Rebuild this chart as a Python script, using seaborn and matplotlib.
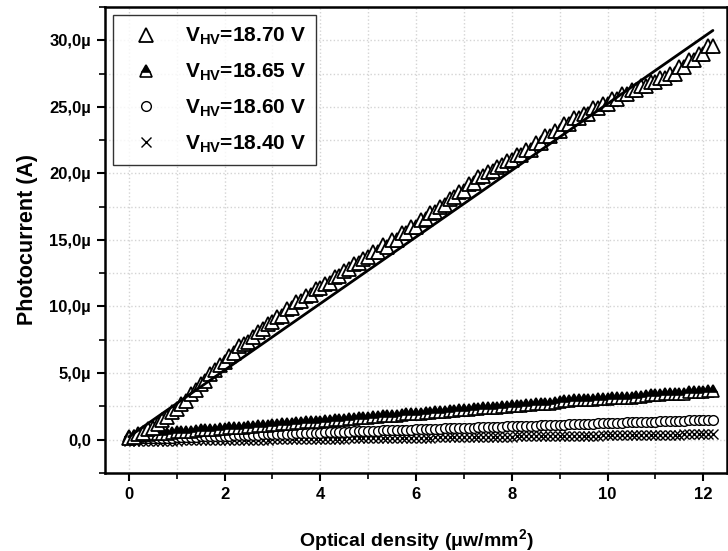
import numpy as np
import pandas as pd
import seaborn as sns
import matplotlib
matplotlib.use("Agg")
import matplotlib.pyplot as plt
from matplotlib.ticker import MultipleLocator

# optical density (uW/mm2) sampling of the sweep
density = [
    0.0, 0.1, 0.2, 0.3, 0.4, 0.5, 0.6, 0.7, 0.8, 0.9,
    1.0, 1.1, 1.2, 1.3, 1.4, 1.5, 1.6, 1.7, 1.8, 1.9,
    2.0, 2.1, 2.2, 2.3, 2.4, 2.5, 2.6, 2.7, 2.8, 2.9,
    3.0, 3.1, 3.2, 3.3, 3.4, 3.5, 3.6, 3.7, 3.8, 3.9,
    4.0, 4.1, 4.2, 4.3, 4.4, 4.5, 4.6, 4.7, 4.8, 4.9,
    5.0, 5.1, 5.2, 5.3, 5.4, 5.5, 5.6, 5.7, 5.8, 5.9,
    6.0, 6.1, 6.2, 6.3, 6.4, 6.5, 6.6, 6.7, 6.8, 6.9,
    7.0, 7.1, 7.2, 7.3, 7.4, 7.5, 7.6, 7.7, 7.8, 7.9,
    8.0, 8.1, 8.2, 8.3, 8.4, 8.5, 8.6, 8.7, 8.8, 8.9,
    9.0, 9.1, 9.2, 9.3, 9.4, 9.5, 9.6, 9.7, 9.8, 9.9,
    10.0, 10.1, 10.2, 10.3, 10.4, 10.5, 10.6, 10.7, 10.8, 10.9,
    11.0, 11.1, 11.2, 11.3, 11.4, 11.5, 11.6, 11.7, 11.8, 11.9,
    12.0, 12.1, 12.2,
]

# photocurrent in uA
i_1870 = [
    0.1, 0.2, 0.4, 0.5, 0.8, 0.9, 1.2, 1.5, 1.7, 2.1,
    2.3, 2.7, 2.9, 3.4, 3.7, 4.2, 4.4, 4.9, 5.2, 5.6,
    5.8, 6.3, 6.5, 7.0, 7.2, 7.3, 7.7, 8.1, 8.3, 8.7,
    8.8, 9.2, 9.3, 9.8, 9.9, 10.3, 10.4, 10.8, 10.9, 11.3,
    11.4, 11.7, 11.8, 12.2, 12.3, 12.7, 12.8, 13.2, 13.3, 13.6,
    13.7, 14.1, 14.1, 14.6, 14.5, 15.0, 15.0, 15.5, 15.5, 16.0,
    16.0, 16.5, 16.6, 17.0, 17.1, 17.5, 17.6, 18.1, 18.2, 18.6,
    18.7, 19.2, 19.3, 19.7, 19.8, 20.1, 20.2, 20.5, 20.6, 20.9,
    21.0, 21.4, 21.4, 21.8, 21.8, 22.3, 22.3, 22.8, 22.8, 23.2,
    23.2, 23.7, 23.7, 24.2, 24.2, 24.5, 24.5, 24.9, 24.9, 25.2,
    25.2, 25.6, 25.6, 26.0, 26.0, 26.3, 26.3, 26.6, 26.6, 26.9,
    26.9, 27.2, 27.2, 27.5, 27.5, 28.0, 28.0, 28.5, 28.5, 29.0,
    29.0, 29.6, 29.6,
]
i_1865 = [
    0.25, 0.30, 0.30, 0.35, 0.35, 0.40, 0.40, 0.45, 0.45, 0.50,
    0.55, 0.55, 0.60, 0.60, 0.65, 0.70, 0.70, 0.75, 0.75, 0.80,
    0.80, 0.85, 0.85, 0.90, 0.90, 0.95, 0.95, 1.00, 1.05, 1.05,
    1.10, 1.10, 1.15, 1.15, 1.20, 1.25, 1.25, 1.30, 1.30, 1.35,
    1.35, 1.40, 1.40, 1.45, 1.50, 1.50, 1.55, 1.55, 1.60, 1.60,
    1.65, 1.70, 1.70, 1.75, 1.75, 1.80, 1.80, 1.85, 1.90, 1.90,
    1.95, 1.95, 2.00, 2.00, 2.05, 2.10, 2.10, 2.15, 2.15, 2.20,
    2.20, 2.25, 2.30, 2.30, 2.35, 2.35, 2.40, 2.40, 2.45, 2.45,
    2.50, 2.55, 2.55, 2.60, 2.60, 2.65, 2.65, 2.70, 2.70, 2.75,
    2.80, 2.90, 2.90, 2.95, 2.95, 3.00, 3.00, 3.00, 3.05, 3.05,
    3.05, 3.10, 3.10, 3.10, 3.15, 3.15, 3.20, 3.20, 3.25, 3.35,
    3.35, 3.35, 3.40, 3.40, 3.40, 3.45, 3.45, 3.55, 3.55, 3.60,
    3.60, 3.65, 3.65,
]
i_1860 = [
    0.05, 0.05, 0.08, 0.08, 0.10, 0.12, 0.12, 0.13, 0.15, 0.15,
    0.17, 0.18, 0.19, 0.20, 0.21, 0.23, 0.24, 0.25, 0.26, 0.27,
    0.29, 0.30, 0.31, 0.32, 0.33, 0.35, 0.36, 0.37, 0.38, 0.39,
    0.40, 0.42, 0.43, 0.44, 0.45, 0.46, 0.48, 0.49, 0.50, 0.51,
    0.52, 0.53, 0.55, 0.56, 0.57, 0.58, 0.59, 0.61, 0.62, 0.63,
    0.64, 0.65, 0.66, 0.68, 0.69, 0.70, 0.71, 0.72, 0.73, 0.75,
    0.76, 0.77, 0.78, 0.79, 0.81, 0.82, 0.83, 0.84, 0.85, 0.86,
    0.88, 0.89, 0.90, 0.91, 0.92, 0.94, 0.95, 0.96, 0.97, 0.98,
    0.99, 1.01, 1.02, 1.03, 1.04, 1.05, 1.06, 1.08, 1.09, 1.10,
    1.11, 1.12, 1.14, 1.15, 1.16, 1.17, 1.18, 1.19, 1.21, 1.22,
    1.23, 1.24, 1.25, 1.27, 1.28, 1.29, 1.30, 1.31, 1.32, 1.34,
    1.35, 1.36, 1.37, 1.38, 1.40, 1.41, 1.42, 1.43, 1.44, 1.45,
    1.47, 1.48, 1.49,
]
i_1840 = [
    -0.12, -0.12, -0.11, -0.11, -0.10, -0.10, -0.09, -0.09, -0.09, -0.08,
    -0.08, -0.07, -0.07, -0.06, -0.06, -0.06, -0.05, -0.05, -0.04, -0.04,
    -0.03, -0.03, -0.03, -0.02, -0.02, -0.01, -0.01, 0.00, 0.00, 0.00,
    0.01, 0.01, 0.02, 0.02, 0.03, 0.03, 0.03, 0.04, 0.04, 0.05,
    0.05, 0.06, 0.06, 0.06, 0.07, 0.07, 0.08, 0.08, 0.09, 0.09,
    0.10, 0.10, 0.10, 0.11, 0.11, 0.12, 0.12, 0.13, 0.13, 0.13,
    0.14, 0.14, 0.15, 0.15, 0.16, 0.16, 0.16, 0.17, 0.17, 0.18,
    0.18, 0.19, 0.19, 0.19, 0.20, 0.20, 0.21, 0.21, 0.22, 0.22,
    0.22, 0.23, 0.23, 0.24, 0.24, 0.25, 0.25, 0.25, 0.26, 0.26,
    0.27, 0.27, 0.28, 0.28, 0.28, 0.29, 0.29, 0.30, 0.30, 0.31,
    0.31, 0.31, 0.32, 0.32, 0.33, 0.33, 0.34, 0.34, 0.34, 0.35,
    0.35, 0.36, 0.36, 0.37, 0.37, 0.37, 0.38, 0.38, 0.39, 0.39,
    0.40, 0.40, 0.40,
]

# linear fit of the 18.70 V curve
fit_x = [0.0, 12.2]
fit_y = [0.2, 30.75]

labels = ["18.70", "18.65", "18.60", "18.40"]
y_ticks = [0, 5, 10, 15, 20, 25, 30]
y_ticklabels = ["0,0", "5,0\u00b5", "10,0\u00b5", "15,0\u00b5", "20,0\u00b5", "25,0\u00b5", "30,0\u00b5"]

sns.set_theme(style="ticks")
plt.rcParams["font.family"] = ["Liberation Sans", "DejaVu Sans"]
plt.rcParams["font.weight"] = "bold"
plt.rcParams["mathtext.fontset"] = "custom"
plt.rcParams["mathtext.rm"] = "Liberation Sans:bold"
plt.rcParams["mathtext.it"] = "Liberation Sans:bold"
plt.rcParams["mathtext.bf"] = "Liberation Sans:bold"
for key in ["text.color", "axes.labelcolor", "xtick.color", "ytick.color"]:
    plt.rcParams[key] = "black"

fig = plt.figure(figsize=(7.28, 5.51), dpi=100)
ax = fig.add_axes([0.144, 0.142, 0.855, 0.845])

common = dict(ax=ax, estimator=None, sort=False, linestyle="", color="black")

# draw back to front: crosses, circles, half triangles, open triangles
sns.lineplot(x=density, y=i_1840, marker="x", markersize=7, mew=1.0, mec="black",
             label=r"V$_{\rm HV}$=" + labels[3] + " V", zorder=3, **common)
sns.lineplot(x=density, y=i_1860, marker="o", markersize=7, mfc="white",
             mec="black", mew=1.0,
             label=r"V$_{\rm HV}$=" + labels[2] + " V", zorder=4, **common)
sns.lineplot(x=density, y=i_1865, marker="^", markersize=9, fillstyle="top",
             mfc="black", markerfacecoloralt="white", mec="black", mew=1.2,
             label=r"V$_{\rm HV}$=" + labels[1] + " V", zorder=5, **common)
sns.lineplot(x=density, y=i_1870, marker="^", markersize=10, mfc="white",
             mec="black", mew=1.3,
             label=r"V$_{\rm HV}$=" + labels[0] + " V", zorder=6, **common)
ax.plot(fit_x, fit_y, color="black", lw=2, zorder=7)

ax.set_xlim(-0.5, 12.5)
ax.set_ylim(-2.5, 32.5)
ax.xaxis.set_major_locator(MultipleLocator(2))
ax.xaxis.set_minor_locator(MultipleLocator(1))
ax.set_yticks(y_ticks)
ax.set_yticklabels(y_ticklabels)
ax.yaxis.set_minor_locator(MultipleLocator(2.5))
ax.tick_params(which="major", direction="out", length=6, width=1.5, labelsize=12, pad=4)
ax.tick_params(which="minor", direction="out", length=4, width=1.2)
for lab in ax.get_xticklabels() + ax.get_yticklabels():
    lab.set_fontweight("bold")

ax.grid(which="both", color="#d4d4d4", linestyle=":", linewidth=1.0)
ax.set_axisbelow(True)
for s in ax.spines.values():
    s.set_linewidth(1.8)
    s.set_color("black")

ax.set_xlabel(r"Optical density ($\mu$w/mm$^2$)", fontsize=14, fontweight="bold", labelpad=18)
ax.set_ylabel("Photocurrent (A)", fontsize=15.5, fontweight="bold", labelpad=8)

handles, labs = ax.get_legend_handles_labels()
leg = ax.legend(handles[::-1], labs[::-1], loc="upper left", fontsize=15,
                frameon=True, fancybox=False, edgecolor="black",
                borderaxespad=0.4, labelspacing=0.7, handletextpad=0.75,
                handlelength=2.2, borderpad=0.5)
leg.get_frame().set_linewidth(1.0)
for t in leg.get_texts():
    t.set_fontweight("bold")

fig.savefig("out.png", dpi=100)
